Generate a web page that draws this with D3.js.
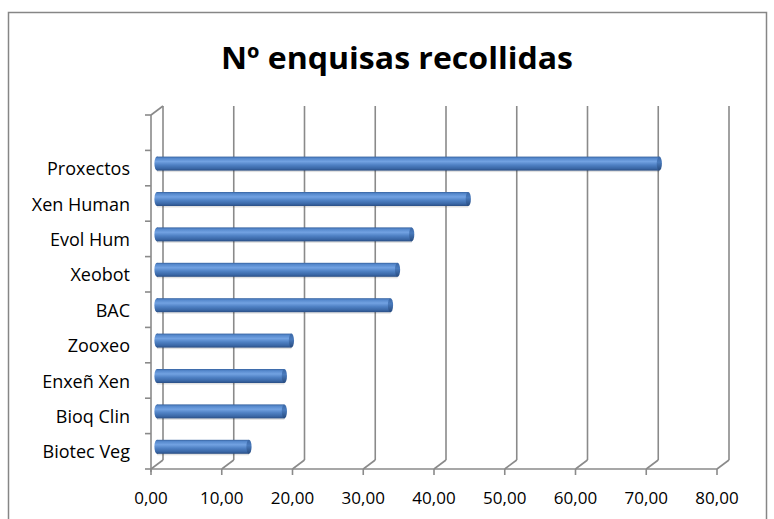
<!DOCTYPE html>
<html>
<head>
<meta charset="utf-8">
<script src="https://cdn.jsdelivr.net/npm/d3@7"></script>
<style>
  html, body { margin: 0; padding: 0; background: #fff; }
  svg { display: block; }
</style>
</head>
<body>
<script>
// Survey counts per group, listed bottom to top as drawn
const categories = ["Biotec Veg", "Bioq Clin", "Enxeñ Xen", "Zooxeo", "BAC", "Xeobot", "Evol Hum", "Xen Human", "Proxectos"];
const values = [13, 18, 18, 19, 33, 34, 36, 44, 71];
const xTicks = [0, 10, 20, 30, 40, 50, 60, 70, 80];
const title = "Nº enquisas recollidas";

const W = 774, H = 519;
const font = "'Open Sans', 'Noto Sans', sans-serif";

const svg = d3.select("body").append("svg")
  .attr("width", W).attr("height", H);

// Chart frame
svg.append("rect")
  .attr("x", 8.5).attr("y", 12.5)
  .attr("width", 758).attr("height", 520)
  .attr("fill", "#fff").attr("stroke", "#868686").attr("stroke-width", 1.5);

svg.append("text")
  .attr("x", 397).attr("y", 69)
  .attr("text-anchor", "middle")
  .attr("font-family", font).attr("font-weight", "bold")
  .attr("font-size", 31).attr("fill", "#000")
  .attr("textLength", 352).attr("lengthAdjust", "spacingAndGlyphs")
  .text(title);

// Front-plane scales; the back plane is offset by a depth vector
const x = d3.scaleLinear().domain([0, 80]).range([151, 717]);
const slots = categories.length + 1;
const y = d3.scaleLinear().domain([0, slots]).range([469, 115]);
const depth = { dx: 12, dy: -9 };

const grid = svg.append("g")
  .attr("stroke", "#8a8a8a").attr("stroke-width", 1.6).attr("fill", "none");

// Back wall verticals and floor diagonals
xTicks.forEach(v => {
  const fx = x(v), bx = fx + depth.dx;
  grid.append("line")
    .attr("x1", bx).attr("y1", y(0) + depth.dy)
    .attr("x2", bx).attr("y2", y(slots) + depth.dy);
  grid.append("line")
    .attr("x1", fx).attr("y1", y(0))
    .attr("x2", bx).attr("y2", y(0) + depth.dy);
  grid.append("line")
    .attr("x1", fx).attr("y1", y(0))
    .attr("x2", fx).attr("y2", y(0) + 6);
});

// Floor front edge
grid.append("line")
  .attr("x1", x(0)).attr("y1", y(0)).attr("x2", x(80)).attr("y2", y(0));

// Left wall edge, its top diagonal and category ticks
grid.append("line")
  .attr("x1", x(0)).attr("y1", y(0) + 3).attr("x2", x(0)).attr("y2", y(slots));
grid.append("line")
  .attr("x1", x(0)).attr("y1", y(slots))
  .attr("x2", x(0) + depth.dx).attr("y2", y(slots) + depth.dy);
d3.range(slots + 1).forEach(i => {
  grid.append("line")
    .attr("x1", x(0) - 6).attr("y1", y(i))
    .attr("x2", x(0)).attr("y2", y(i));
});

// Cylinder shading
const defs = svg.append("defs");
const grad = defs.append("linearGradient")
  .attr("id", "cyl").attr("x1", 0).attr("y1", 0).attr("x2", 0).attr("y2", 1);
[[0, "#36629f"], [0.12, "#5588cc"], [0.35, "#72a2e2"], [0.6, "#4f81c4"], [0.85, "#3a67a6"], [1, "#2a4e84"]]
  .forEach(([o, c]) => grad.append("stop").attr("offset", o).attr("stop-color", c));
const capGrad = defs.append("linearGradient")
  .attr("id", "cap").attr("x1", 0).attr("y1", 0).attr("x2", 0).attr("y2", 1);
[[0, "#3a67a6"], [0.4, "#4a7bbd"], [1, "#264a7e"]]
  .forEach(([o, c]) => capGrad.append("stop").attr("offset", o).attr("stop-color", c));

// Bars sit half-way between the front and back planes
const mid = { dx: depth.dx / 2, dy: depth.dy / 2 };
const barH = 14, rx = 2.6;

const bars = svg.append("g").selectAll("g")
  .data(categories.map((c, i) => ({ c, v: values[i], i })))
  .join("g");

bars.each(function (d) {
  const g = d3.select(this);
  const cy = y(d.i + 0.5) + mid.dy;
  const x0 = x(0) + mid.dx, x1 = x(d.v) + mid.dx;
  // soft shadow below
  g.append("rect")
    .attr("x", x0).attr("y", cy + barH / 2 - 1)
    .attr("width", x1 - x0).attr("height", 2.5)
    .attr("fill", "#000").attr("opacity", 0.12);
  g.append("rect")
    .attr("x", x0).attr("y", cy - barH / 2)
    .attr("width", x1 - x0).attr("height", barH)
    .attr("fill", "url(#cyl)");
  g.append("ellipse")
    .attr("cx", x0).attr("cy", cy).attr("rx", rx).attr("ry", barH / 2)
    .attr("fill", "url(#cyl)");
  g.append("ellipse")
    .attr("cx", x1).attr("cy", cy).attr("rx", rx).attr("ry", barH / 2)
    .attr("fill", "url(#cap)");
});

// Category labels
svg.append("g").selectAll("text")
  .data(categories)
  .join("text")
  .attr("x", 130)
  .attr("y", (d, i) => y(i + 0.5) + 7)
  .attr("text-anchor", "end")
  .attr("font-family", font).attr("font-size", 18).attr("fill", "#000")
  .text(d => d);

// Value axis labels
const fmt = v => d3.format(".2f")(v).replace(".", ",");
svg.append("g").selectAll("text")
  .data(xTicks)
  .join("text")
  .attr("x", d => x(d))
  .attr("y", 503.5)
  .attr("text-anchor", "middle")
  .attr("font-family", font).attr("font-size", 17).attr("fill", "#000")
  .text(fmt);
</script>
</body>
</html>
